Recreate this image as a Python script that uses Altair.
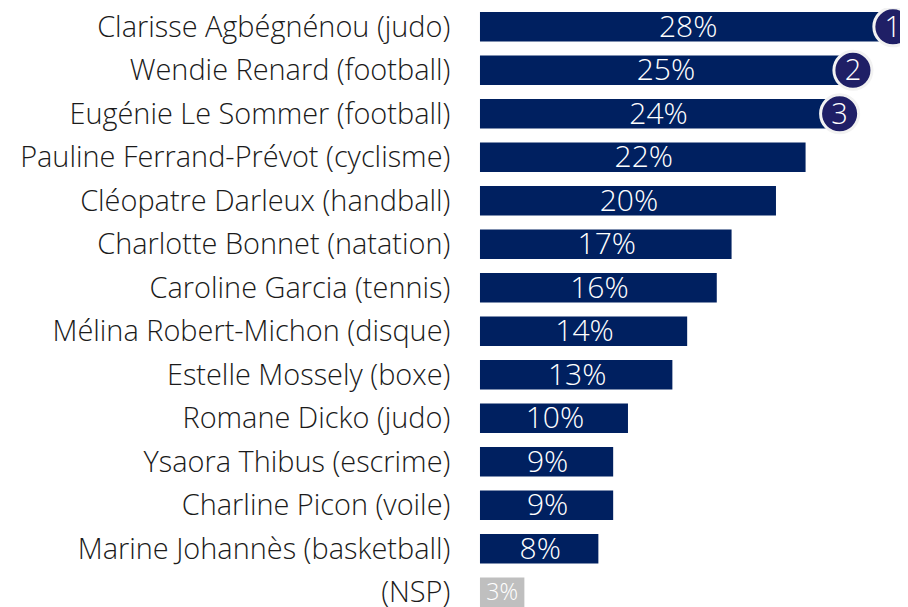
import altair as alt
import pandas as pd

names = ["Clarisse Agbégnénou (judo)", "Wendie Renard (football)", "Eugénie Le Sommer (football)",
         "Pauline Ferrand-Prévot (cyclisme)", "Cléopatre Darleux (handball)", "Charlotte Bonnet (natation)",
         "Caroline Garcia (tennis)", "Mélina Robert-Michon (disque)", "Estelle Mossely (boxe)",
         "Romane Dicko (judo)", "Ysaora Thibus (escrime)", "Charline Picon (voile)",
         "Marine Johannès (basketball)", "(NSP)"]
values = [28, 25, 24, 22, 20, 17, 16, 14, 13, 10, 9, 9, 8, 3]
ranks = ["1", "2", "3"]
rank_pos = [27.9, 25.2, 24.3]

df = pd.DataFrame({"name": names, "value": values, "label": [f"{v}%" for v in values]})
df["half"] = df["value"] / 2
df["nsp"] = df["name"] == "(NSP)"
rk = pd.DataFrame({"name": names[:3], "value": rank_pos, "rank": ranks})

FONT = "Open Sans"
W, H = 892, 599
xs = alt.Scale(domain=[-31.89, 28.38], nice=False)
ys = alt.Scale(domain=names, paddingInner=0.32, paddingOuter=0.046, align=1)
y = alt.Y("name:N", scale=ys, axis=None)

bars = alt.Chart(df).mark_bar().encode(
    x=alt.X("value:Q", scale=xs, axis=None), x2=alt.datum(0), y=y,
    color=alt.Color("nsp:N", scale=alt.Scale(domain=[False, True], range=["#002060", "#BFBFBF"]), legend=None))
vals = alt.Chart(df[~df.nsp]).mark_text(font=FONT, fontSize=30, fontWeight=300, color="white", baseline="middle", dy=1, dx=1).encode(
    x=alt.X("half:Q", scale=xs), y=y, text="label:N")
nsp = alt.Chart(df[df.nsp]).mark_text(font=FONT, fontSize=23, fontWeight=300, color="white", baseline="middle", dy=1).encode(
    x=alt.X("half:Q", scale=xs), y=y, text="label:N")
names_t = alt.Chart(df).mark_text(font=FONT, fontSize=28.9, fontWeight=300, color="#1a1a1a", align="right", baseline="middle", dy=1).encode(
    x=alt.datum(-2), y=y, text="name:N")
dots = alt.Chart(rk).mark_point(filled=True, size=1450, color="#1F1F66", stroke="#F2F2F2", strokeWidth=3, opacity=1).encode(
    x=alt.X("value:Q", scale=xs), y=y)
rtxt = alt.Chart(rk).mark_text(font=FONT, fontSize=29, fontWeight=300, color="white", baseline="middle", dy=1).encode(
    x=alt.X("value:Q", scale=xs), y=y, text="rank:N")

chart = alt.layer(bars, vals, nsp, names_t, dots, rtxt).properties(
    width=W, height=H, autosize=alt.AutoSizeParams(type="none"), padding=0,
    background="white"
).configure_view(strokeWidth=0)
chart.save("out.html", embed_options={"renderer": "svg", "actions": False})
